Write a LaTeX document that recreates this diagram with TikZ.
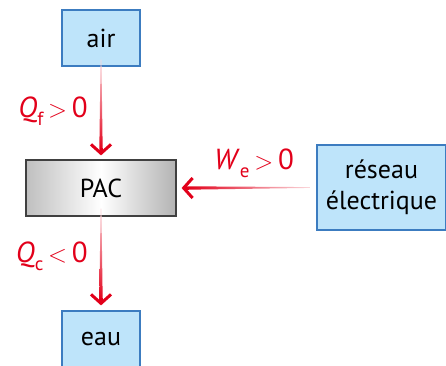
\documentclass[tikz,border=0pt]{standalone}
\usepackage{fontspec}
\setmainfont{PT Sans}
\usetikzlibrary{arrows.meta,calc}
\definecolor{boxblue}{RGB}{190,228,250}
\definecolor{boxedge}{RGB}{60,124,192}
\definecolor{flux}{RGB}{226,0,26}
\tikzset{
  bluebox/.style={draw=boxedge, line width=1.2pt, fill=boxblue, inner sep=0pt, align=center, font=\fontsize{26}{31}\selectfont},
  pacbox/.style={draw=black!75, line width=1.2pt, shading=axis, left color=black!25, right color=black!30, middle color=white, shading angle=90, inner sep=0pt, font=\fontsize{26}{31}\selectfont},
  fluxlabel/.style={text=flux, font=\fontsize{29}{31}\selectfont, inner sep=0pt},
  tiptip/.style={draw=flux, line width=3pt, -{Straight Barb[length=9pt,width=20pt,line width=3pt]}}
}
\newcommand{\itsub}[2]{\textit{#1}\raisebox{-0.28em}{\fontsize{19}{19}\selectfont #2}}
\newcommand{\bigrel}[1]{\,{\fontsize{33}{33}\selectfont$#1$}\,}
\begin{document}
\begin{tikzpicture}[x=1pt,y=-1pt]
\useasboundingbox (0,0) rectangle (446,365);
\node[bluebox, minimum width=78pt, minimum height=56pt] (air) at (101,38) {air};
\node[pacbox, minimum width=150pt, minimum height=56pt] (pac) at (101,188) {PAC};
\node[bluebox, minimum width=78pt, minimum height=56pt] (eau) at (101,339) {eau};
\node[bluebox, minimum width=129pt, minimum height=85pt] (res) at (381.5,187.5) {réseau\\électrique};
% air -> PAC
\coordinate (a1) at ($(air.south)+(0,-7)$);
\coordinate (a2) at ($(pac.north)+(0,-9)$);
\shade[top color=flux!15, bottom color=flux] ($(a1)+(-0.4,0)$) -- ($(a1)+(0.4,0)$) -- ($(a2)+(1.7,0)$) -- ($(a2)+(-1.7,0)$) -- cycle;
\draw[tiptip] ($(a2)+(0,-2)$) -- ($(pac.north)+(0,-4)$);
% PAC -> eau
\coordinate (b1) at ($(pac.south)+(0,-8)$);
\coordinate (b2) at ($(eau.north)+(0,-10)$);
\shade[top color=flux!15, bottom color=flux] ($(b1)+(-0.4,0)$) -- ($(b1)+(0.4,0)$) -- ($(b2)+(1.7,0)$) -- ($(b2)+(-1.7,0)$) -- cycle;
\draw[tiptip] ($(b2)+(0,-2)$) -- ($(eau.north)+(0,-5)$);
% reseau -> PAC
\coordinate (c1) at ($(res.west)+(-6,0)$);
\coordinate (c2) at ($(pac.east)+(10,0)$);
\shade[left color=flux, right color=flux!15] ($(c1)+(0,-0.4)$) -- ($(c1)+(0,0.4)$) -- ($(c2)+(0,1.7)$) -- ($(c2)+(0,-1.7)$) -- cycle;
\draw[tiptip] ($(c2)+(2,0)$) -- ($(pac.east)+(5,0)$);
% labels
\node[fluxlabel, anchor=base east] (lf) at (88,117) {\itsub{Q}{f}\bigrel{>}0};
\node[fluxlabel, anchor=base east] (lc) at (88,262) {\itsub{Q}{c}\bigrel{<}0};
\node[fluxlabel, anchor=base west] (lw) at (214,169) {\itsub{W}{e}\bigrel{>}0};
\end{tikzpicture}
\end{document}
